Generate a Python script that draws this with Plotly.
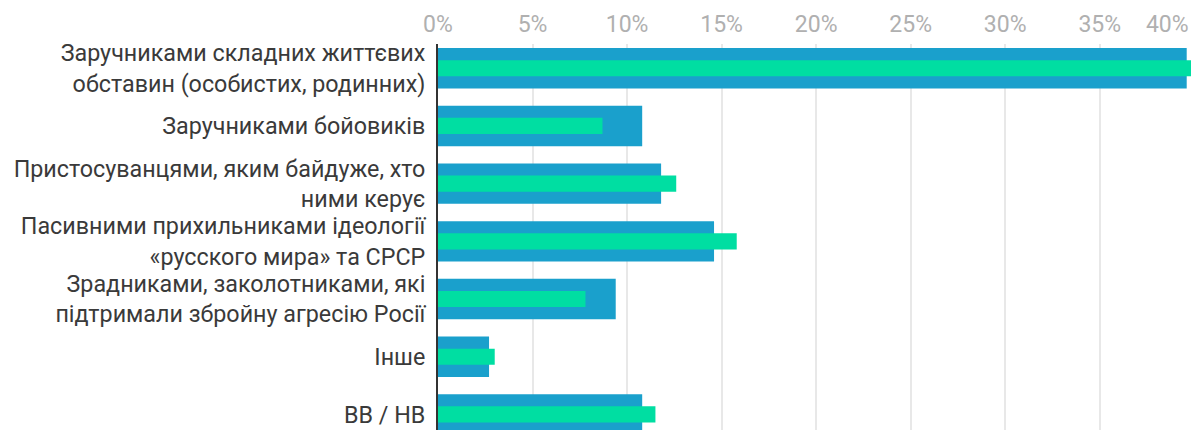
import plotly.graph_objects as go

categories = [
    "Заручниками складних життєвих<br>обставин (особистих, родинних)",
    "Заручниками бойовиків",
    "Пристосуванцями, яким байдуже, хто<br>ними керує",
    "Пасивними прихильниками ідеології<br>«русского мира» та СРСР",
    "Зрадниками, заколотниками, які<br>підтримали збройну агресію Росії",
    "Інше",
    "ВВ / НВ",
]
series_blue = [39.6, 10.8, 11.8, 14.6, 9.4, 2.7, 10.8]
series_green = [40.5, 8.7, 12.6, 15.8, 7.8, 3.0, 11.5]
tick_values = [0, 5, 10, 15, 20, 25, 30, 35]
edge_tick_values = [40]
tick_labels = [f"{v}%" for v in tick_values]
edge_tick_labels = [f"{v}%" for v in edge_tick_values]

BLUE = "#1aa0cc"
GREEN = "#00dea2"
TICKFONT = dict(size=23, color="#b0b0b0", family="Roboto")

fig = go.Figure()
fig.add_trace(go.Bar(y=categories, x=series_blue, orientation="h",
                     marker=dict(color=BLUE, line=dict(width=0)), width=0.7,
                     name="blue"))
fig.add_trace(go.Bar(y=categories, x=series_green, orientation="h", xaxis="x2",
                     marker=dict(color=GREEN, line=dict(width=0)), width=0.28,
                     name="green"))

fig.update_layout(
    width=1191, height=422,
    margin=dict(l=430, r=0, t=36, b=0, autoexpand=False),
    barmode="overlay",
    showlegend=False,
    plot_bgcolor="white", paper_bgcolor="white",
    font=dict(family="Roboto", color="#3a3a3a"),
    xaxis=dict(side="top", range=[0, 40.25], tickvals=tick_values, ticktext=tick_labels,
               tickfont=TICKFONT, ticklabelstandoff=6,
               ticklabeloverflow="allow", automargin=False,
               showgrid=True, gridcolor="#e8e8e8", gridwidth=2,
               zeroline=False, showline=False, ticks="", fixedrange=True),
    xaxis2=dict(side="top", overlaying="x", matches="x", anchor="y",
                tickvals=edge_tick_values, ticktext=edge_tick_labels,
                tickfont=TICKFONT, ticklabelstandoff=6, ticklabelshift=-27,
                ticklabeloverflow="allow", automargin=False,
                showgrid=False, zeroline=False, showline=False, ticks="",
                fixedrange=True),
    yaxis=dict(categoryorder="array", categoryarray=categories,
               range=[6.27, -0.42], showgrid=False, zeroline=False,
               showline=True, linecolor="#333333", linewidth=2,
               ticks="", ticklabelstandoff=6, automargin=False,
               tickfont=dict(size=23.3, color="#3a3a3a", family="Roboto")),
)

fig.write_html("out.html")
